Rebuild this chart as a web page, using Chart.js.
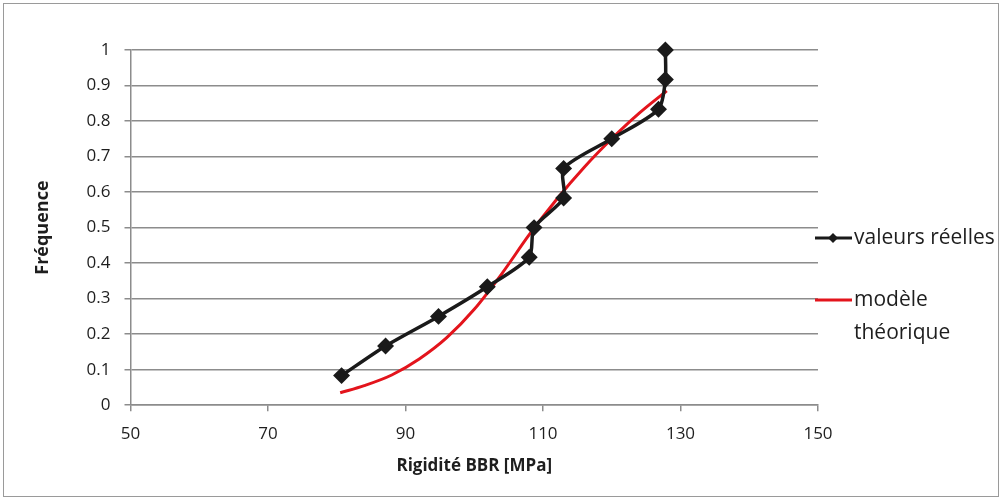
<!DOCTYPE html>
<html>
<head>
<meta charset="utf-8">
<script src="https://cdn.jsdelivr.net/npm/chart.js@4.4.0/dist/chart.umd.min.js"></script>
<style>
  html, body { margin: 0; padding: 0; background: #fff; }
  #wrap { position: relative; width: 1004px; height: 504px; }
  #frame { position: absolute; left: 3px; top: 3px; width: 996px; height: 494px; border: 1px solid #9a9a9a; box-sizing: border-box; }
</style>
</head>
<body>
<div id="wrap">
  <div id="frame"></div>
  <canvas id="chart" width="1004" height="504"></canvas>
</div>
<script>
// valeurs réelles (x = rigidité, y = fréquence)
var reelX = [80.7, 87.1, 94.8, 101.9, 108.0, 108.7, 113.0, 113.0, 120.0, 126.8, 127.8, 127.8];
var reelY = [0.0833, 0.1667, 0.25, 0.3333, 0.4167, 0.5, 0.5833, 0.6667, 0.75, 0.8333, 0.9167, 1];

// modèle théorique
var modeleX = [80.5, 84, 88, 92, 96, 100, 104, 108, 112, 116, 120, 124, 128];
var modeleY = [0.035, 0.055, 0.085, 0.13, 0.19, 0.27, 0.37, 0.48, 0.58, 0.67, 0.75, 0.822, 0.885];

var xTicks = [50, 70, 90, 110, 130, 150];
var yTicks = [0, 0.1, 0.2, 0.3, 0.4, 0.5, 0.6, 0.7, 0.8, 0.9, 1];

var legendNoms = [["valeurs réelles"], ["modèle", "théorique"]];

var police = "'Open Sans', 'Liberation Sans', sans-serif";

var toPoints = function(xs, ys){
  return xs.map(function(x, i){ return {x: x, y: ys[i]}; });
};

// légende dessinée à droite, comme dans Excel
var legendePlugin = {
  id: 'legende',
  afterDraw: function(chart){
    var ctx = chart.ctx;
    var x0 = chart.chartArea.right - 3;
    var items = [
      {y: 238, color: '#1a1a1a', width: 3, diamond: true, text: legendNoms[0]},
      {y: 300, color: '#e3141c', width: 3, diamond: false, text: legendNoms[1]}
    ];
    ctx.save();
    items.forEach(function(it){
      ctx.strokeStyle = it.color;
      ctx.lineWidth = it.width;
      ctx.beginPath();
      ctx.moveTo(x0, it.y);
      ctx.lineTo(x0 + 37, it.y);
      ctx.stroke();
      if (it.diamond) {
        ctx.fillStyle = it.color;
        ctx.beginPath();
        ctx.moveTo(x0 + 18, it.y - 5);
        ctx.lineTo(x0 + 23, it.y);
        ctx.lineTo(x0 + 18, it.y + 5);
        ctx.lineTo(x0 + 13, it.y);
        ctx.closePath();
        ctx.fill();
      }
      ctx.fillStyle = '#1e1e1e';
      ctx.font = '21px ' + police;
      ctx.textBaseline = 'middle';
      it.text.forEach(function(t, k){
        ctx.fillText(t, x0 + 39, it.y + k * 33);
      });
    });
    ctx.restore();
  }
};

new Chart(document.getElementById('chart'), {
  type: 'scatter',
  data: {
    datasets: [
      {
        label: 'valeurs réelles',
        data: toPoints(reelX, reelY),
        showLine: true,
        clip: false,
        borderColor: '#1a1a1a',
        backgroundColor: '#1a1a1a',
        borderWidth: 3.5,
        tension: 0.25,
        pointStyle: 'rectRot',
        pointRadius: 6,
        pointHoverRadius: 6,
        order: 0
      },
      {
        label: 'modèle théorique',
        data: toPoints(modeleX, modeleY),
        showLine: true,
        borderColor: '#e3141c',
        backgroundColor: '#e3141c',
        borderWidth: 3,
        cubicInterpolationMode: 'monotone',
        pointRadius: 0,
        order: 1
      }
    ]
  },
  plugins: [legendePlugin],
  options: {
    responsive: false,
    animation: false,
    layout: { padding: { left: 28, right: 186, top: 50, bottom: 28 } },
    plugins: {
      legend: { display: false },
      tooltip: { enabled: false }
    },
    scales: {
      x: {
        type: 'linear',
        min: 50, max: 150,
        afterBuildTicks: function(axis){ axis.ticks = xTicks.map(function(v){ return {value: v}; }); },
        ticks: { color: '#1e1e1e', font: { family: police, size: 17 }, padding: 13 },
        grid: { drawOnChartArea: false, drawTicks: true, tickLength: 6, color: '#8c8c8c', lineWidth: 1.5 },
        border: { color: '#8c8c8c', width: 1.5 },
        title: { display: true, text: 'Rigidité BBR [MPa]', color: '#1e1e1e', font: { family: police, size: 17, weight: 'bold' }, padding: { top: -2, bottom: 0 } }
      },
      y: {
        type: 'linear',
        min: 0, max: 1,
        afterBuildTicks: function(axis){ axis.ticks = yTicks.map(function(v){ return {value: v}; }); },
        ticks: {
          color: '#1e1e1e', font: { family: police, size: 17 }, padding: 14,
          callback: function(v){ return String(Math.round(v * 10) / 10); }
        },
        grid: { color: '#8c8c8c', lineWidth: 1.5, tickLength: 6 },
        border: { color: '#8c8c8c', width: 1.5 },
        title: { display: true, text: 'Fréquence', color: '#1e1e1e', font: { family: police, size: 18, weight: 'bold' }, padding: { bottom: 19 } }
      }
    }
  }
});
</script>
</body>
</html>
